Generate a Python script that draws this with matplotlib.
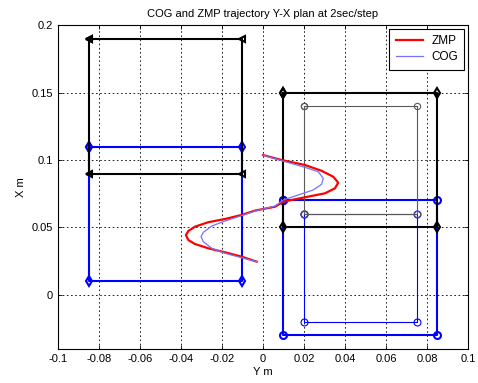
import matplotlib
matplotlib.use("Agg")
import matplotlib.pyplot as plt

plt.rcParams['font.family'] = ['Liberation Sans', 'DejaVu Sans']

# ---- data ----
zmp_Y = [0.000, 0.009, 0.0205, 0.0286, 0.0343, 0.0367, 0.0351, 0.0302, 0.0205, 0.0099,
         0.0059, -0.0039, -0.0104, -0.0185, -0.0267, -0.0332, -0.0364, -0.0376, -0.0364,
         -0.0332, -0.0267, -0.0185, -0.0104, -0.0031]
zmp_X = [0.1037, 0.100, 0.0963, 0.092, 0.0876, 0.0832, 0.079, 0.0753, 0.0724, 0.0691,
         0.0654, 0.0625, 0.0593, 0.0563, 0.0539, 0.0506, 0.0474, 0.0444, 0.0407,
         0.0378, 0.0346, 0.0316, 0.0284, 0.0247]

cog_Y = [0.000, 0.009, 0.0205, 0.027, 0.0294, 0.0286, 0.0245, 0.0172, 0.0099, 0.0059,
         -0.0039, -0.0104, -0.0185, -0.025, -0.0291, -0.0302, -0.0291, -0.025, -0.0185,
         -0.0104, -0.0031]
cog_X = [0.1037, 0.0995, 0.0946, 0.0913, 0.0864, 0.082, 0.0778, 0.0741, 0.0704, 0.0659,
         0.0622, 0.0588, 0.0548, 0.0511, 0.0464, 0.0432, 0.0395, 0.0346, 0.0309,
         0.0276, 0.0247]

# foot rectangles: (y_min, y_max, x_min, x_max)
left_black = (-0.085, -0.01, 0.09, 0.19)
left_blue = (-0.085, -0.01, 0.01, 0.11)
right_black = (0.01, 0.085, 0.05, 0.15)
right_black_inner = (0.02, 0.075, 0.06, 0.14)
right_blue = (0.01, 0.085, -0.03, 0.07)
right_blue_inner = (0.02, 0.075, -0.02, 0.06)

x_ticks = [-0.1, -0.08, -0.06, -0.04, -0.02, 0, 0.02, 0.04, 0.06, 0.08, 0.1]
x_tick_labels = ['-0.1', '-0.08', '-0.06', '-0.04', '-0.02', '0', '0.02', '0.04', '0.06', '0.08', '0.1']
y_ticks = [0, 0.05, 0.1, 0.15, 0.2]
y_tick_labels = ['0', '0.05', '0.1', '0.15', '0.2']


def rect_path(r):
    y0, y1, x0, x1 = r
    return [y0, y1, y1, y0, y0], [x1, x1, x0, x0, x1]


fig = plt.figure(figsize=(4.78, 3.83), dpi=100)
ax = fig.add_axes([0.1213, 0.0888, 0.8577, 0.8459])

blue = (0, 0, 1)
lblue = (0.45, 0.45, 1.0)

# blue feet first
for r, lw, ms, mk in [(left_blue, 1.5, 5, 'd'), (right_blue, 1.5, 5, 'o')]:
    yy, xx = rect_path(r)
    ax.plot(yy, xx, color=blue, lw=lw, marker=mk, ms=ms, mfc='none', mec=blue, mew=1.5, zorder=3)
yy, xx = rect_path(right_blue_inner)
ax.plot(yy, xx, color=blue, lw=0.8, marker='o', ms=5, mfc='none', mec=blue, mew=0.8, zorder=3)

# black feet
yy, xx = rect_path(left_black)
ax.plot(yy, xx, color='k', lw=1.5, marker='<', ms=5, mfc='none', mec='k', mew=1.5, zorder=4)
yy, xx = rect_path(right_black)
ax.plot(yy, xx, color='k', lw=1.5, marker='d', ms=5, mfc='none', mec='k', mew=1.5, zorder=4)
yy, xx = rect_path(right_black_inner)
ax.plot(yy, xx, color=(0.35, 0.35, 0.35), lw=0.8, marker='o', ms=4.5, mfc='none',
        mec=(0.35, 0.35, 0.35), mew=0.8, zorder=4)

# trajectories
l1, = ax.plot(zmp_Y, zmp_X, color='red', lw=1.6, zorder=5, label='ZMP')
l2, = ax.plot(cog_Y, cog_X, color=lblue, lw=0.9, zorder=6, label='COG')

ax.set_xlim(-0.1, 0.1)
ax.set_ylim(-0.04, 0.2)
ax.set_xticks(x_ticks)
ax.set_xticklabels(x_tick_labels)
ax.set_yticks(y_ticks)
ax.set_yticklabels(y_tick_labels)
ax.tick_params(direction='in', length=3, labelsize=8, top=True, right=True, width=0.6)
ax.grid(True, color='k', linestyle=(0, (2, 3)), lw=0.6)
for s in ax.spines.values():
    s.set_linewidth(0.8)

ax.set_title('COG and ZMP trajectory Y-X plan at 2sec/step', fontsize=8, pad=6)
ax.set_xlabel('Y m', fontsize=8, labelpad=2)
ax.set_ylabel('X m', fontsize=8, labelpad=4)

leg = ax.legend(handles=[l1, l2], loc='upper right', fontsize=8.5, frameon=True,
                fancybox=False, edgecolor='k', framealpha=1, handlelength=2.3,
                handletextpad=0.7, borderpad=0.55, labelspacing=0.35,
                borderaxespad=0.3)
leg.get_frame().set_linewidth(0.8)

fig.savefig('out.png', dpi=100)
